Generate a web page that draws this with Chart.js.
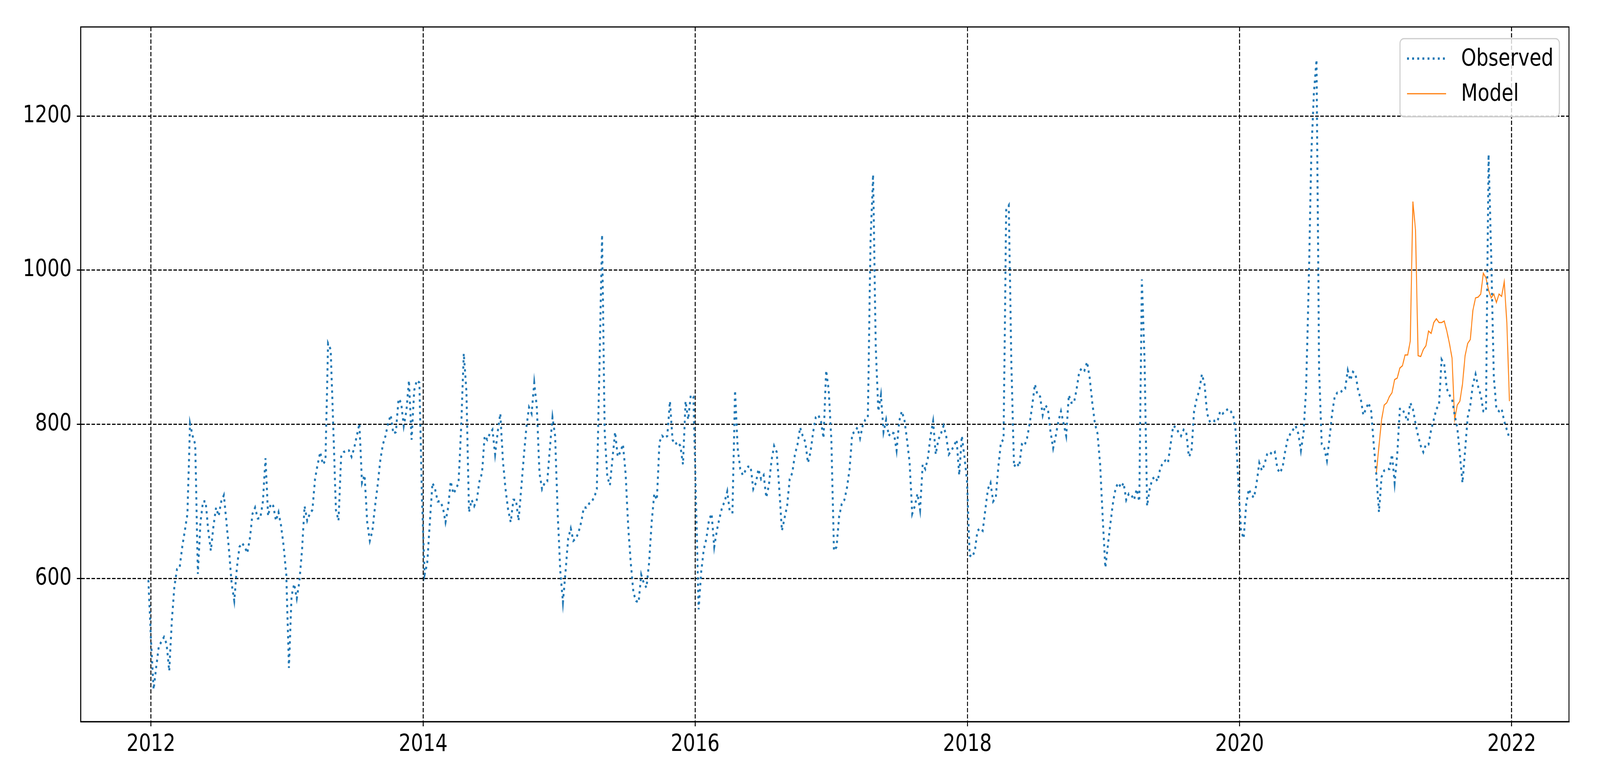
<!DOCTYPE html>
<html>
<head>
<meta charset="utf-8">
<script src="https://cdn.jsdelivr.net/npm/chart.js@4.4.1/dist/chart.umd.min.js"></script>
<style>
  html, body { margin: 0; padding: 0; background: #fff; overflow: hidden; }
  #wrap { width: 5000px; height: 2000px; transform-origin: 0 0; }
  canvas { display: block; }
</style>
</head>
<body>
<div id="wrap"><canvas id="myChart" width="5000" height="2000"></canvas></div>
<script>
// weekly series, first week starts on this date
const firstWeek = '2011-12-25';

const observed = [
  598, 520, 456, 485, 512, 518, 524, 515, 480, 545, 590, 612, 614, 641, 662, 684, 801, 785, 774, 606,
  673, 700, 700, 662, 636, 668, 692, 681, 700, 708, 673, 636, 593, 571, 614, 641, 646, 641, 633, 652,
  684, 692, 678, 678, 700, 756, 681, 697, 694, 675, 686, 668, 641, 604, 484, 577, 593, 574, 596, 636,
  694, 675, 684, 689, 729, 748, 764, 748, 753, 905, 897, 796, 689, 675, 758, 764, 766, 766, 758, 769,
  785, 801, 724, 734, 673, 649, 662, 694, 721, 753, 774, 785, 801, 812, 788, 790, 833, 828, 798, 817,
  857, 780, 844, 857, 854, 700, 605, 620, 673, 724, 716, 700, 700, 692, 673, 692, 726, 710, 716, 724,
  796, 892, 844, 686, 702, 694, 702, 726, 737, 785, 780, 788, 793, 761, 790, 814, 753, 716, 689, 673,
  702, 702, 675, 716, 758, 796, 822, 814, 854, 822, 737, 716, 724, 726, 769, 809, 785, 684, 609, 569,
  609, 652, 665, 649, 652, 660, 673, 692, 692, 697, 700, 705, 716, 876, 1046, 790, 732, 721, 756, 790,
  758, 764, 774, 737, 668, 620, 582, 571, 569, 605, 594, 588, 620, 673, 710, 702, 777, 785, 782, 785,
  830, 780, 774, 777, 772, 748, 830, 806, 838, 836, 700, 560, 609, 638, 652, 676, 684, 641, 662, 678,
  692, 700, 713, 686, 686, 844, 769, 742, 734, 740, 745, 745, 716, 724, 742, 729, 734, 705, 721, 753,
  772, 764, 716, 662, 678, 694, 729, 737, 761, 774, 796, 785, 777, 750, 764, 790, 809, 812, 804, 782,
  870, 844, 780, 636, 641, 681, 697, 702, 718, 742, 788, 790, 796, 782, 798, 806, 809, 1036, 1124, 902,
  817, 838, 790, 806, 785, 790, 788, 766, 804, 817, 806, 780, 750, 684, 694, 710, 689, 748, 742, 756,
  785, 804, 761, 780, 788, 798, 785, 761, 766, 772, 780, 734, 785, 758, 726, 630, 628, 636, 662, 665,
  662, 689, 716, 724, 700, 705, 745, 777, 780, 1078, 1084, 876, 745, 750, 745, 774, 772, 782, 801, 825,
  852, 838, 836, 812, 825, 820, 790, 769, 785, 804, 817, 801, 785, 838, 828, 828, 846, 868, 873, 870,
  881, 860, 828, 801, 788, 748, 678, 614, 644, 673, 700, 718, 724, 718, 724, 702, 710, 708, 702, 716,
  700, 988, 886, 694, 716, 729, 732, 726, 742, 750, 753, 750, 774, 798, 796, 790, 785, 793, 790, 758,
  764, 817, 833, 844, 865, 852, 814, 804, 806, 804, 804, 817, 814, 817, 820, 817, 812, 790, 721, 662,
  652, 697, 716, 708, 705, 724, 750, 740, 748, 761, 764, 761, 764, 742, 737, 745, 766, 782, 788, 793,
  798, 788, 766, 788, 846, 980, 1150, 1230, 1273, 870, 774, 769, 753, 782, 814, 836, 841, 841, 844, 846,
  870, 857, 868, 865, 844, 833, 812, 820, 828, 817, 774, 734, 686, 732, 740, 742, 742, 761, 724, 761,
  820, 820, 812, 804, 828, 820, 801, 785, 772, 764, 774, 774, 793, 806, 820, 825, 884, 878, 846, 838,
  833, 812, 796, 761, 724, 766, 809, 825, 852, 865, 849, 838, 817, 817, 1150, 1020, 862, 820, 817, 820,
  804, 793, 782
];

// model starts at this week index of the observed series
const modelStartWeek = 471;
const model = [
  737, 772, 806, 825, 828, 836, 841, 858, 860, 873, 876, 890, 890, 908, 1089, 1052, 889, 888, 897, 902,
  921, 918, 932, 937, 932, 932, 934, 921, 905, 886, 806, 825, 830, 852, 889, 905, 910, 948, 964, 965,
  969, 996, 990, 974, 964, 969, 958, 969, 966, 985, 932, 830
];

const yearTicks = [2012, 2014, 2016, 2018, 2020, 2022];
const valueTicks = [600, 800, 1000, 1200];

// the figure is drawn at 5000x2000 and fitted to whatever window we get
let wrap = document.getElementById('wrap');
wrap.style.transform = 'scale(' + (window.innerWidth / 5000) + ',' + (window.innerHeight / 2000) + ')';

function decimalYear(ms) {
    let d = new Date(ms);
    let y = d.getUTCFullYear();
    let s = Date.UTC(y, 0, 1), e = Date.UTC(y + 1, 0, 1);
    return y + (ms - s) / (e - s);
}

let t0 = Date.parse(firstWeek + 'T00:00:00Z');
let weekX = observed.map((v, i) => decimalYear(t0 + i * 7 * 86400000));

let observedPts = observed.map((v, i) => ({x: weekX[i], y: v}));
let modelPts = model.map((v, i) => ({x: weekX[modelStartWeek + i], y: v}));

const FONT = {family: 'DejaVu Sans', size: 60};

// top/right spines, matplotlib style
const frame = {
    id: 'frame',
    afterDatasetsDraw(chart) {
        let {ctx, chartArea: a} = chart;
        ctx.save();
        ctx.strokeStyle = '#000';
        ctx.lineWidth = 3;
        ctx.strokeRect(a.left, a.top, a.right - a.left, a.bottom - a.top);
        ctx.restore();
    }
};

// legend box inside the plot, upper right
const boxLegend = {
    id: 'boxLegend',
    afterDraw(chart) {
        let {ctx, chartArea: a} = chart;
        let w = 498, h = 200;
        let x = a.right - 30 - w, y = a.top + 30;
        ctx.save();
        ctx.beginPath();
        ctx.roundRect(x, y, w, h, 12);
        ctx.fillStyle = 'rgba(255,255,255,0.8)';
        ctx.fill();
        ctx.strokeStyle = '#cccccc';
        ctx.lineWidth = 3;
        ctx.stroke();

        let rows = [
            {label: 'Observed', color: '#1f77b4', width: 6, dash: [6, 10], cy: y + 51},
            {label: 'Model', color: '#ff7f0e', width: 3, dash: [], cy: y + 141}
        ];
        rows.forEach(r => {
            ctx.beginPath();
            ctx.setLineDash(r.dash);
            ctx.lineCap = 'butt';
            ctx.strokeStyle = r.color;
            ctx.lineWidth = r.width;
            ctx.moveTo(x + 22, r.cy);
            ctx.lineTo(x + 144, r.cy);
            ctx.stroke();
            ctx.setLineDash([]);
            ctx.fillStyle = '#000';
            ctx.font = '60px "DejaVu Sans"';
            ctx.textBaseline = 'middle';
            ctx.textAlign = 'left';
            ctx.fillText(r.label, x + 191, r.cy + 2);
        });
        ctx.restore();
    }
};

let ctx = document.querySelector('#myChart').getContext('2d');

let myChart = new Chart(ctx, {
    type: 'line',
    data: {
        datasets: [{
            label: 'Observed',
            data: observedPts,
            borderColor: '#1f77b4',
            borderWidth: 6,
            borderDash: [6, 10],
            borderCapStyle: 'butt',
            pointRadius: 0,
            fill: false,
            tension: 0
        }, {
            label: 'Model',
            data: modelPts,
            borderColor: '#ff7f0e',
            borderWidth: 3,
            pointRadius: 0,
            fill: false,
            tension: 0
        }]
    },
    options: {
        responsive: false,
        animation: false,
        devicePixelRatio: 1,
        layout: {padding: {top: 69, right: 97, left: 0, bottom: 0}},
        plugins: {
            legend: {display: false},
            tooltip: {enabled: false}
        },
        scales: {
            x: {
                type: 'linear',
                min: 2011.483,
                max: 2022.421,
                afterBuildTicks: s => { s.ticks = yearTicks.map(v => ({value: v})); },
                afterFit: s => { s.height = 152; },
                ticks: {font: FONT, color: '#000', padding: 11, maxRotation: 0,
                        callback: v => String(v)},
                grid: {color: '#000', lineWidth: 3, tickLength: 12, tickWidth: 3, tickColor: '#000'},
                border: {display: true, color: '#000', width: 3, dash: [11, 5]}
            },
            y: {
                min: 414.3,
                max: 1315.5,
                afterBuildTicks: s => { s.ticks = valueTicks.map(v => ({value: v})); },
                afterFit: s => { s.width = 252; },
                ticks: {font: FONT, color: '#000', padding: 16, callback: v => String(v)},
                grid: {color: '#000', lineWidth: 3, tickLength: 12, tickWidth: 3, tickColor: '#000'},
                border: {display: true, color: '#000', width: 3, dash: [11, 5]}
            }
        }
    },
    plugins: [frame, boxLegend]
});
</script>
</body>
</html>
